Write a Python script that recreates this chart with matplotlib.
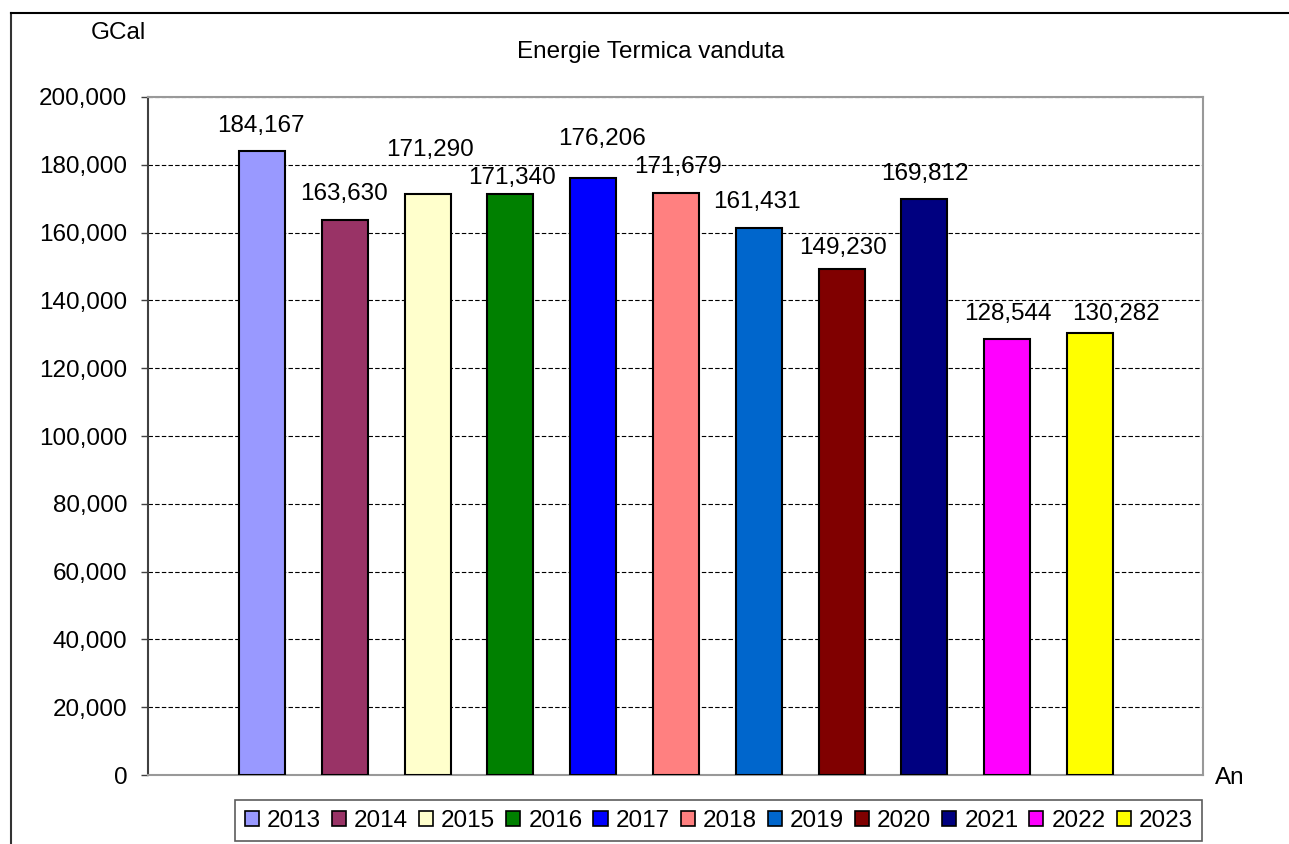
import matplotlib.pyplot as plt
from matplotlib.lines import Line2D
from matplotlib.patches import Patch

plt.rcParams['font.family'] = ['Liberation Sans', 'DejaVu Sans']

years = ['2013', '2014', '2015', '2016', '2017', '2018', '2019', '2020', '2021', '2022', '2023']
values = [184167, 163630, 171290, 171340, 176206, 171679, 161431, 149230, 169812, 128544, 130282]
colors = ['#9999FF', '#993366', '#FFFFCC', '#008000', '#0000FF', '#FF8080',
          '#0066CC', '#800000', '#000080', '#FF00FF', '#FFFF00']
# where each value label sits relative to its bar top, in pixels (as placed in the original)
label_dx = [-1, -1, 2, 2, 9, 2, -2, 1, 0, 1, 26]
label_dy = [25, 26, 44, 16, 39, 26, 26, 21, 25, 25, 19]

W, H = 1289, 844
fs = 17.5
fig = plt.figure(figsize=(W / 100, H / 100), dpi=100)
ax = fig.add_axes([148 / W, 1 - 775 / H, 1055 / W, 678 / H])

x = list(range(len(years)))
ax.bar(x, values, width=0.556, color=colors, edgecolor='black', linewidth=1.5, zorder=3)
for xi, v, dx, dy in zip(x, values, label_dx, label_dy):
    ax.annotate(f'{v:,}', (xi, v), xytext=(dx, dy), textcoords='offset pixels',
                ha='center', va='center', fontsize=fs, zorder=4)

ax.set_xlim(-1.377, 11.365)
ax.set_ylim(0, 200000)
ax.set_yticks(range(0, 200001, 20000))
ax.set_yticklabels([f'{t:,}' for t in range(0, 200001, 20000)], fontsize=fs)
ax.set_xticks([])
ax.tick_params(axis='y', length=5, width=1, pad=10, color='#404040')
ax.yaxis.grid(True, linestyle=(0, (4, 2)), color='black', linewidth=0.8, zorder=0)
ax.set_axisbelow(True)
for s in ['top', 'right', 'bottom']:
    ax.spines[s].set_color('#999999')
    ax.spines[s].set_linewidth(1.5)
ax.spines['left'].set_color('#404040')
ax.spines['left'].set_linewidth(1.5)

fig.text(651 / W, 1 - 52 / H, 'Energie Termica vanduta', ha='center', va='center', fontsize=fs)
fig.text(118 / W, 1 - 33 / H, 'GCal', ha='center', va='center', fontsize=fs)
fig.text(1230 / W, 1 - 778 / H, 'An', ha='center', va='center', fontsize=fs)

# chart border, cut off at right and bottom
fig.add_artist(Line2D([11 / W, 11 / W], [0, 1 - 13 / H], color='#333333', linewidth=1.5))
fig.add_artist(Line2D([11 / W, 1], [1 - 13 / H, 1 - 13 / H], color='black', linewidth=1.5))

handles = [Patch(facecolor=c, edgecolor='black', linewidth=1.2) for c in colors]
leg = fig.legend(handles, years, loc='upper left', bbox_to_anchor=(235 / W, 1 - 800 / H),
                 ncol=len(years), fontsize=fs, frameon=True, fancybox=False,
                 handlelength=0.58, handleheight=0.58, handletextpad=0.33,
                 columnspacing=0.45, borderpad=0.4, borderaxespad=0)
leg.get_frame().set_edgecolor('#333333')
leg.get_frame().set_linewidth(1.2)

fig.savefig('out.png', dpi=100)
